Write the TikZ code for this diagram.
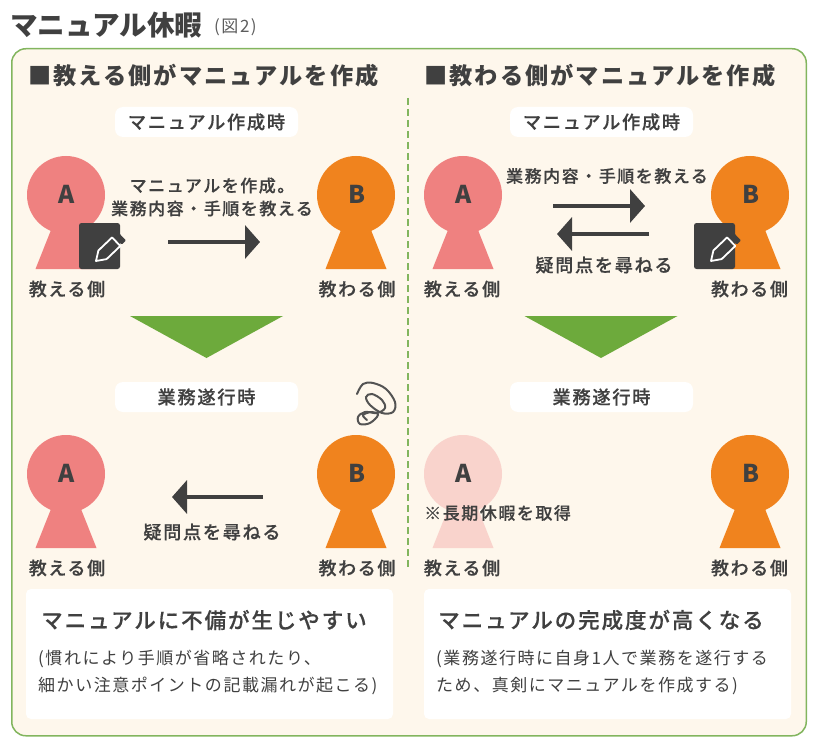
\documentclass[tikz,border=0pt]{standalone}
\usepackage{fontspec}
\usetikzlibrary{arrows.meta}
\setmainfont{Noto Sans CJK JP}
\newfontfamily\jpwide{Noto Sans CJK JP}[LetterSpace=9]
\newfontfamily\jpmed{Noto Sans CJK JP Medium}[LetterSpace=9,FakeBold=0.35]
\definecolor{inkgray}{HTML}{404040}
\definecolor{panelbg}{HTML}{FEF7EC}
\definecolor{panelline}{HTML}{82B55E}
\definecolor{leafgreen}{HTML}{6DAA3C}
\definecolor{coralA}{HTML}{EF8180}
\definecolor{paleA}{HTML}{F9D3CC}
\definecolor{orangeB}{HTML}{F0831E}
\tikzset{
    every node/.style={text=inkgray, inner sep=0pt},
    heading/.style={anchor=west, font=\jpwide\bfseries\fontsize{23.2}{23.2}\selectfont},
    pill/.style={fill=white, rounded corners=8pt, minimum width=183pt, minimum height=30pt,
        font=\jpmed\fontsize{18.3}{18.3}\selectfont},
    head/.style={circle, minimum size=78pt, font=\bfseries\fontsize{24.5}{24.5}\selectfont},
    side/.style={font=\jpmed\fontsize{18}{18}\selectfont},
    say/.style={font=\jpmed\fontsize{17}{23}\selectfont, align=center},
    ask/.style={font=\jpmed\fontsize{18.2}{18.2}\selectfont},
    flow/.style={line width=4pt, color=inkgray, -{Triangle[length=15pt,width=33pt]}},
    resultbox/.style={fill=white, rounded corners=5pt, minimum width=367pt, minimum height=130pt},
    resulttitle/.style={anchor=west, font=\jpmed\fontsize{21.5}{21.5}\selectfont},
    resultnote/.style={anchor=north west, align=left, font=\jpwide\fontsize{17}{27}\selectfont},
    penline/.style={draw=white, line width=1.8pt, line join=round}
}
\newcommand{\penbox}[2]{%
    \begin{scope}[shift={(#1,#2)}]
        \fill[inkgray, rounded corners=2.5pt] (0,0) rectangle (41,46);
        \draw[penline] (17,38) -- (27.6,36.1) -- (41.3,23) -- (33.1,14.4) -- (19.4,27.5) -- cycle;
        \fill[inkgray, rounded corners=1pt] (42.7,21.6) -- (47,17.5) -- (38.8,8.9) -- (34.5,13) -- cycle;
    \end{scope}}
\begin{document}
\begin{tikzpicture}[x=1pt,y=-1pt]
    \useasboundingbox (0,0) rectangle (816,746);
    \node[anchor=west, font=\bfseries\fontsize{27.6}{27.6}\selectfont] (title) at (10,25) {マニュアル休暇};
    \node[anchor=west, font=\jpwide\fontsize{17}{17}\selectfont, text=inkgray!85] (fignote) at (214,27) {(図2)};
    \node[draw=panelline, line width=1.5pt, fill=panelbg, rounded corners=14pt, anchor=north west,
        minimum width=794.5pt, minimum height=687pt] (panel) at (11,48) {};
    \coordinate (splittop) at (408,98);
    \coordinate (splitend) at (408,570);
    \draw[panelline, line width=2pt, dash pattern=on 7pt off 4pt] (splittop) -- (splitend);
    \node[heading] (headL) at (28,76) {■教える側がマニュアルを作成};
    \node[heading] (headR) at (424,76) {■教わる側がマニュアルを作成};
    % pills
    \foreach \pname/\px/\py/\ptext in {pillLa/206.5/122/マニュアル作成時, pillRa/601.5/122/マニュアル作成時,
        pillLb/206.5/397/業務遂行時, pillRb/601.5/397/業務遂行時}
        \node[pill] (\pname) at (\px,\py) {\ptext};
    % people
    \foreach \pname/\px/\py/\pcol/\pletter/\pside/\plabx in {
        aLa/66/195/coralA/A/教える側/67, bLa/356/195/orangeB/B/教わる側/357,
        aRa/463/195/coralA/A/教える側/462, bRa/750/195/orangeB/B/教わる側/749.5,
        aLb/66/474/coralA/A/教える側/67, bLb/356/474/orangeB/B/教わる側/357,
        aRb/463/474/paleA/A/教える側/462, bRb/750/474/orangeB/B/教わる側/749.5}
    {
        \fill[\pcol] (\px-15,\py+35) -- (\px+15,\py+35) -- (\px+30.5,\py+74) -- (\px-30.5,\py+74) -- cycle;
        \node[head, fill=\pcol] (\pname) at (\px,\py) {\hspace{2pt}\raisebox{1pt}{\pletter}};
        \node[side] (\pname side) at (\plabx,\py+94) {\pside};
    }
    % turning triangles
    \foreach \tx in {206.5,601}
        \fill[leafgreen] (\tx-76.5,316) -- (\tx+76.5,316) -- (\tx,358) -- cycle;
    \penbox{79}{223}
    \penbox{694}{223}
    % arrows
    \coordinate (fromLa) at (168,242);
    \coordinate (toLa) at (260,242);
    \draw[flow] (fromLa) -- (toLa);
    \coordinate (fromRa) at (553,206);
    \coordinate (toRa) at (645,206);
    \draw[flow] (fromRa) -- (toRa);
    \coordinate (fromRb) at (649,234);
    \coordinate (toRb) at (557,234);
    \draw[flow] (fromRb) -- (toRb);
    \coordinate (fromLb) at (263,497);
    \coordinate (toLb) at (172,497);
    \draw[flow] (fromLb) -- (toLb);
    % spoken texts
    \node[say] (sayLa) at (212,197) {マニュアルを作成。\\業務内容・手順を教える};
    \node[say] (sayRa) at (607,176) {業務内容・手順を教える};
    \node[ask] (sayRb) at (604,265) {疑問点を尋ねる};
    \node[ask] (sayLb) at (212,532) {疑問点を尋ねる};
    \node[say, anchor=west] (offnote) at (424,513) {※長期休暇を取得};
    % swirl
    \draw[inkgray!90, line width=2pt, line cap=round] plot[smooth, tension=0.6] coordinates {
        (357,394) (363,384) (373,383) (386,389) (395,402) (393,412) (382,413) (370,405)
        (366,397) (372,394) (382,400) (385,408) (377,413) (365,412) (358,417) (360,424)
        (370,423) (378,415) (372,412) (363,415) (367,420)};
    % result boxes
    \node[resultbox] (boxL) at (209.5,654) {};
    \node[resultbox] (boxR) at (607.5,654) {};
    \node[resulttitle] (titleL) at (41,620) {マニュアルに不備が生じやすい};
    \node[resulttitle] (titleR) at (438,620) {マニュアルの完成度が高くなる};
    \node[resultnote] (noteL) at (38,650) {(慣れにより手順が省略されたり、\\細かい注意ポイントの記載漏れが起こる)};
    \node[resultnote] (noteR) at (436,650) {(業務遂行時に自身1人で業務を遂行する\\ため、真剣にマニュアルを作成する)};
\end{tikzpicture}
\end{document}
